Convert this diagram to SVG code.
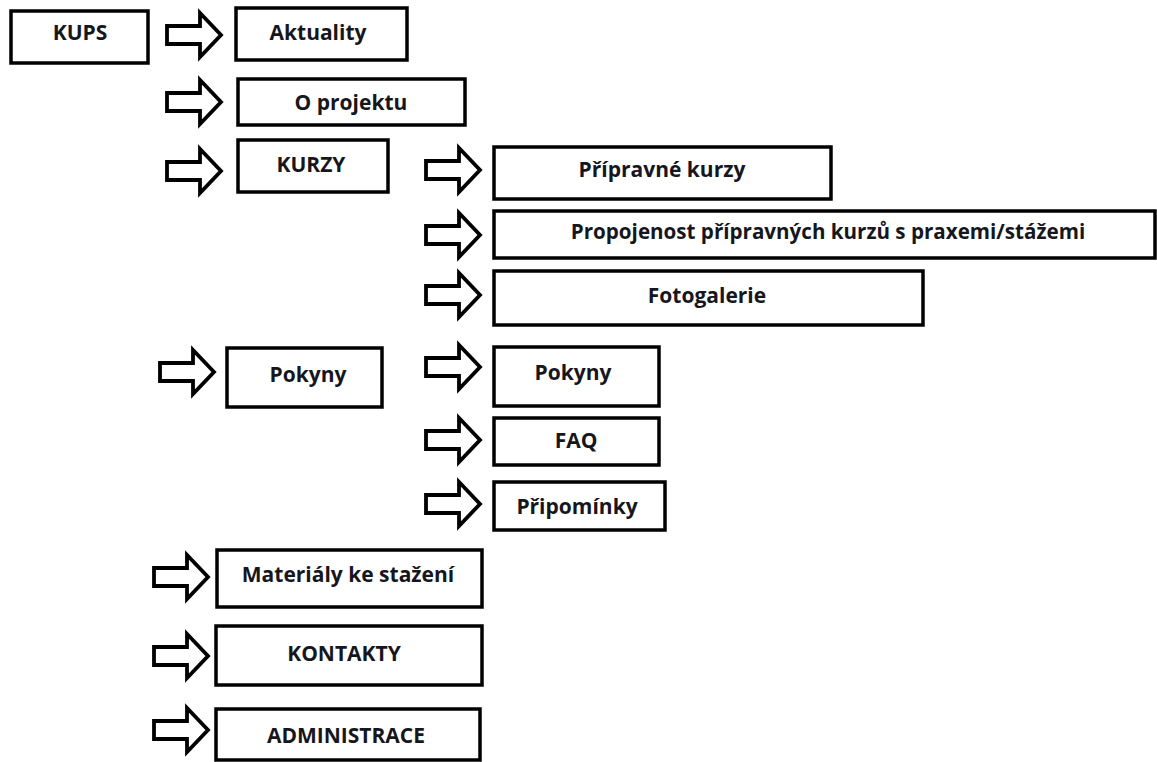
<svg xmlns="http://www.w3.org/2000/svg" width="1157" height="762" viewBox="0 0 1157 762">
<style>
.box{fill:#fff;stroke:#000;stroke-width:3.5}
.arr{fill:#fff;stroke:#000;stroke-width:3.8;stroke-linejoin:miter}
text{font-family:"Open Sans","Liberation Sans",sans-serif;font-weight:bold;font-size:21px;fill:#16161c;text-anchor:middle}
</style>
<defs>
<path id="arrow" class="arr" d="M0,13 H33 V0 L54,22 L33,44 V31 H0 Z"/>
</defs>
<rect width="1157" height="762" fill="#fff"/>
<g id="connectors">
<use href="#arrow" x="167" y="13"/>
<use href="#arrow" x="167" y="80"/>
<use href="#arrow" x="167" y="149"/>
<use href="#arrow" x="426" y="148"/>
<use href="#arrow" x="426" y="213"/>
<use href="#arrow" x="426" y="273"/>
<use href="#arrow" x="160" y="350"/>
<use href="#arrow" x="426" y="345"/>
<use href="#arrow" x="426" y="418"/>
<use href="#arrow" x="426" y="482"/>
<use href="#arrow" x="154" y="555"/>
<use href="#arrow" x="154" y="634"/>
<use href="#arrow" x="154" y="708"/>
</g>
<g id="kups"><rect class="box" x="11" y="11" width="137" height="52"/><text x="80" y="40">KUPS</text></g>
<g id="aktuality"><rect class="box" x="236" y="8" width="171" height="52"/><text x="318" y="40">Aktuality</text></g>
<g id="oprojektu"><rect class="box" x="238" y="79" width="227" height="46"/><text x="351" y="110">O projektu</text></g>
<g id="kurzy"><rect class="box" x="238" y="140" width="150" height="52"/><text x="311" y="172">KURZY</text></g>
<g id="pripravne"><rect class="box" x="494" y="147" width="337" height="52"/><text x="662" y="177">Přípravné kurzy</text></g>
<g id="propojenost"><rect class="box" x="494" y="211" width="661" height="47"/><text x="828" y="239" style="font-size:20.6px">Propojenost přípravných kurzů s praxemi/stážemi</text></g>
<g id="fotogalerie"><rect class="box" x="494" y="271" width="429" height="54"/><text x="707" y="303">Fotogalerie</text></g>
<g id="pokyny"><rect class="box" x="227" y="348" width="155" height="59"/><text x="308" y="382">Pokyny</text></g>
<g id="pokyny2"><rect class="box" x="494" y="347" width="165" height="59"/><text x="573" y="380">Pokyny</text></g>
<g id="faq"><rect class="box" x="494" y="418" width="165" height="47"/><text x="576" y="448">FAQ</text></g>
<g id="pripominky"><rect class="box" x="494" y="482" width="171" height="48"/><text x="577" y="514">Připomínky</text></g>
<g id="materialy"><rect class="box" x="217" y="550" width="265" height="57"/><text x="348" y="582">Materiály ke stažení</text></g>
<g id="kontakty"><rect class="box" x="216" y="626" width="266" height="59"/><text x="344" y="661">KONTAKTY</text></g>
<g id="administrace"><rect class="box" x="216" y="709" width="264" height="51"/><text x="346" y="743">ADMINISTRACE</text></g>
</svg>
